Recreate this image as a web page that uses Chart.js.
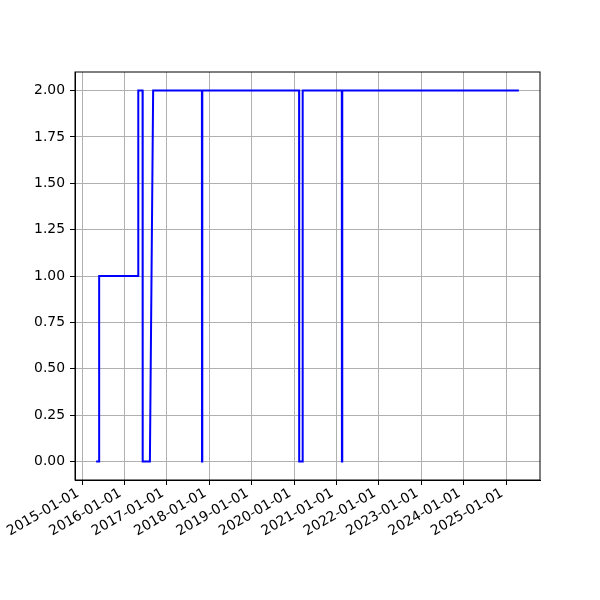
<!DOCTYPE html>
<html>
<head>
<meta charset="utf-8">
<script src="https://cdn.jsdelivr.net/npm/chart.js@4"></script>
<style>
  body { margin: 0; background: #fff; }
  canvas { display: block; }
</style>
</head>
<body>
<canvas id="myChart" width="600" height="600"></canvas>
<script>
// readings along the time axis (dates) and the value at each one
const dates = [
  '2015-05-02', '2015-05-27', '2015-05-28', '2016-04-28', '2016-04-29',
  '2016-06-05', '2016-06-06', '2016-08-07', '2016-09-04', '2017-10-29',
  '2017-10-30', '2017-11-01', '2017-11-02', '2020-02-13', '2020-02-14',
  '2020-03-14', '2020-03-15', '2021-02-15', '2021-02-16', '2021-02-18',
  '2021-02-19', '2025-04-20'
];
const values = [
  0, 0, 1, 1, 2,
  2, 0, 0, 2, 2,
  0, 0, 2, 2, 0,
  0, 2, 2, 0, 0,
  2, 2
];
const yearTicks = ['2015-01-01', '2016-01-01', '2017-01-01', '2018-01-01', '2019-01-01',
  '2020-01-01', '2021-01-01', '2022-01-01', '2023-01-01', '2024-01-01', '2025-01-01'];
const yTicks = [0, 0.25, 0.5, 0.75, 1, 1.25, 1.5, 1.75, 2];

const toMs = d => Date.parse(d + 'T00:00:00Z');
const points = dates.map((d, i) => ({ x: toMs(d), y: values[i] }));

const xFirst = toMs(dates[0]), xLast = toMs(dates[dates.length - 1]);
const xPad = (xLast - xFirst) * 0.05;

const font = { family: 'DejaVu Sans', size: 13.9 };

const frame = {
  id: 'frame',
  afterDraw(chart) {
    const { ctx, chartArea: a } = chart;
    ctx.save();
    ctx.strokeStyle = '#000';
    ctx.lineWidth = 1;
    ctx.strokeRect(a.left, a.top, a.right - a.left, a.bottom - a.top);
    ctx.restore();
  }
};

const ctx = document.getElementById('myChart');
new Chart(ctx, {
  type: 'line',
  data: {
    datasets: [{
      data: points,
      borderColor: '#0000ff',
      borderWidth: 2,
      pointRadius: 0,
      tension: 0,
      fill: false
    }]
  },
  options: {
    responsive: false,
    animation: false,
    layout: { padding: { left: 0, top: 72, right: 60, bottom: 0 } },
    plugins: { legend: { display: false }, tooltip: { enabled: false } },
    scales: {
      x: {
        type: 'linear',
        min: xFirst - xPad,
        max: xLast + xPad,
        afterBuildTicks: axis => { axis.ticks = yearTicks.map(d => ({ value: toMs(d) })); },
        afterFit: axis => { axis.height = 120; },
        ticks: {
          autoSkip: false,
          minRotation: 30,
          maxRotation: 30,
          padding: 0,
          labelOffset: -4,
          color: '#000',
          font: font,
          callback: v => new Date(v).toISOString().slice(0, 10)
        },
        grid: { color: '#b0b0b0', lineWidth: 1, tickLength: 5, tickColor: '#000' },
        border: { color: '#000', width: 1 }
      },
      y: {
        min: -0.1,
        max: 2.1,
        afterBuildTicks: axis => { axis.ticks = yTicks.map(v => ({ value: v })); },
        afterFit: axis => { axis.width = 75; },
        ticks: {
          padding: 5,
          color: '#000',
          font: font,
          callback: v => v.toFixed(2)
        },
        grid: { color: '#b0b0b0', lineWidth: 1, tickLength: 5, tickColor: '#000' },
        border: { color: '#000', width: 1 }
      }
    }
  },
  plugins: [frame]
});
</script>
</body>
</html>
